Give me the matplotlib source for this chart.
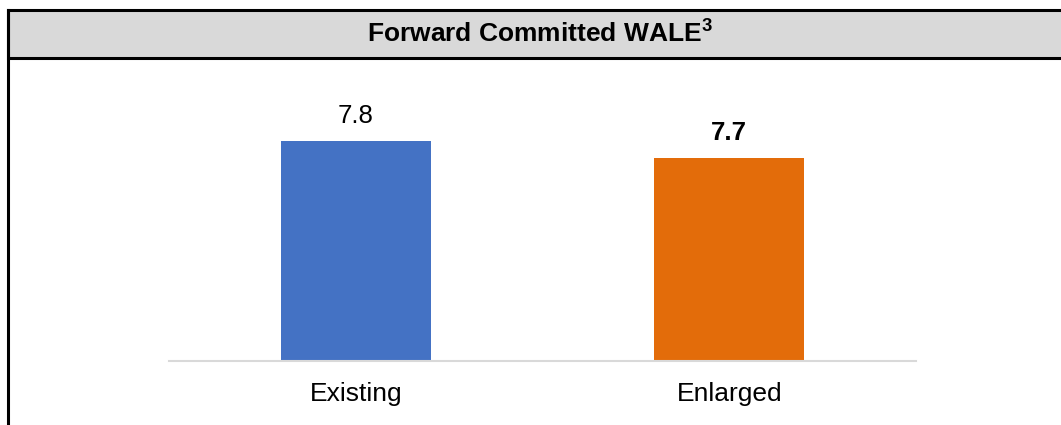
import matplotlib
matplotlib.use('Agg')
import matplotlib.pyplot as plt
from matplotlib.patches import Rectangle
from matplotlib.lines import Line2D

plt.rcParams['font.family'] = ['Liberation Sans', 'DejaVu Sans']
plt.rcParams['mathtext.fontset'] = 'custom'
plt.rcParams['mathtext.rm'] = 'Liberation Sans'
plt.rcParams['mathtext.bf'] = 'Liberation Sans:bold'

# data
categories = ['Existing', 'Enlarged']
wale = [7.8, 7.7]
bar_colors = ['#4472C4', '#E36C0A']
label_weights = ['normal', 'bold']

W, H = 1061, 425
fig = plt.figure(figsize=(W / 100, H / 100), dpi=100)

def px(x, y):
    # pixel coords (top-left origin) to figure fraction
    return x / W, 1 - y / H

# header band
x0, y0 = px(8, 58)
fig.patches.append(Rectangle((x0, y0), 1.1 - x0, 48 / H, transform=fig.transFigure,
                             facecolor='#D9D9D9', edgecolor='black', linewidth=2.2,
                             zorder=0))
fig.lines.append(Line2D([8 / W, 8 / W], [1 - 10 / H, 0], transform=fig.transFigure,
                        color='black', linewidth=2.2))
tx, ty = px(540, 42)
fig.text(tx, ty, r'Forward Committed WALE$^{\mathbf{3}}$', ha='center', va='baseline',
         fontsize=19, fontweight='bold', color='black')

# axes placed by pixels
left, top = px(169, 70)
right, bottom = px(916, 361)
ax = fig.add_axes([left, bottom, right - left, top - bottom])

x = range(len(categories))
bars = ax.bar(x, wale, width=0.402, color=bar_colors, zorder=2)
ax.set_xlim(-0.5, 1.5)
ax.set_ylim(6.53, 8.21)

for b, v, wgt in zip(bars, wale, label_weights):
    ax.annotate(f'{v:.1f}', (b.get_x() + b.get_width() / 2, v), xytext=(0, 13),
                textcoords='offset points', ha='center', va='baseline',
                fontsize=18.5, fontweight=wgt, color='black')

for s in ['top', 'right', 'left']:
    ax.spines[s].set_visible(False)
ax.spines['bottom'].set_color('#D9D9D9')
ax.spines['bottom'].set_linewidth(1.5)
ax.set_yticks([])
ax.set_xticks(list(x))
ax.set_xticklabels(categories, fontsize=19)
ax.tick_params(axis='x', length=0, pad=15)

fig.savefig('out.png', dpi=100)
